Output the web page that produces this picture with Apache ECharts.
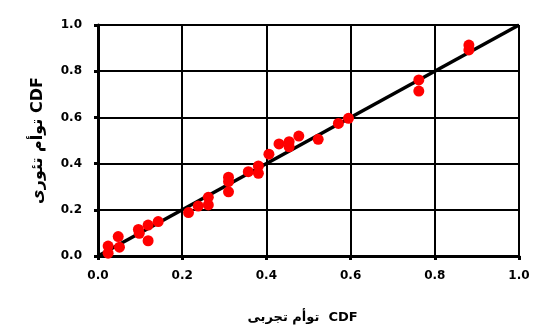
<!DOCTYPE html>
<html>
<head>
<meta charset="utf-8">
<script src="https://cdn.jsdelivr.net/npm/echarts@6/dist/echarts.min.js"></script>
<style>html,body{margin:0;padding:0;background:#fff}#c{width:536px;height:331px}</style>
</head>
<body>
<div id="c"></div>
<script>
const xTicks = [0, 0.2, 0.4, 0.6, 0.8, 1.0];
const experimentalCDF = [0.024,0.024,0.048,0.051,0.096,0.098,0.119,0.119,0.143,0.215,0.238,0.262,0.262,0.31,0.31,0.31,0.357,0.381,0.381,0.406,0.43,0.454,0.454,0.477,0.523,0.571,0.595,0.762,0.762,0.881,0.881];
const theoreticalCDF = [0.043,0.012,0.084,0.038,0.115,0.098,0.134,0.066,0.149,0.188,0.216,0.254,0.221,0.341,0.322,0.278,0.365,0.39,0.358,0.441,0.485,0.495,0.473,0.519,0.505,0.574,0.596,0.762,0.714,0.913,0.892];
const refLine = [[0,0],[1,1]];
const xName = 'توأم تجربی  CDF';
const yName = 'توأم تئوری CDF';

const pts = experimentalCDF.map((x,i)=>[x, theoreticalCDF[i]]);
const chart = echarts.init(document.getElementById('c'));
const font = 'DejaVu Sans';
const axisCommon = {
  type: 'value', min: 0, max: 1, interval: 0.2,
  axisLine: {show: true, lineStyle: {color: '#000', width: 3}},
  axisTick: {show: true, length: 4, lineStyle: {color: '#000', width: 3}},
  splitLine: {show: true, lineStyle: {color: '#000', width: 2}},
  axisLabel: {color: '#000', fontFamily: font, fontWeight: 'bold', fontSize: 12, formatter: v => v.toFixed(1)},
  nameLocation: 'middle'
};
chart.setOption({
  animation: false,
  grid: {left: 98, right: 17, top: 25, bottom: 75},
  xAxis: Object.assign({}, axisCommon, {
    name: xName, nameGap: 55,
    nameTextStyle: {color: '#000', fontFamily: font, fontWeight: 'bold', fontSize: 13, padding: [0, 12, 0, 0]},
    axisLabel: Object.assign({}, axisCommon.axisLabel, {margin: 14})
  }),
  yAxis: Object.assign({}, axisCommon, {
    name: yName, nameGap: 52,
    nameTextStyle: {color: '#000', fontFamily: font, fontWeight: 'bold', fontSize: 16},
    axisLabel: Object.assign({}, axisCommon.axisLabel, {margin: 16})
  }),
  series: [
    {type: 'line', data: refLine, symbol: 'none', lineStyle: {color: '#000', width: 3.5}, z: 2},
    {type: 'scatter', data: pts, symbol: 'circle', symbolSize: 11, itemStyle: {color: '#ff0000', opacity: 1}, z: 3}
  ]
});
</script>
</body>
</html>
